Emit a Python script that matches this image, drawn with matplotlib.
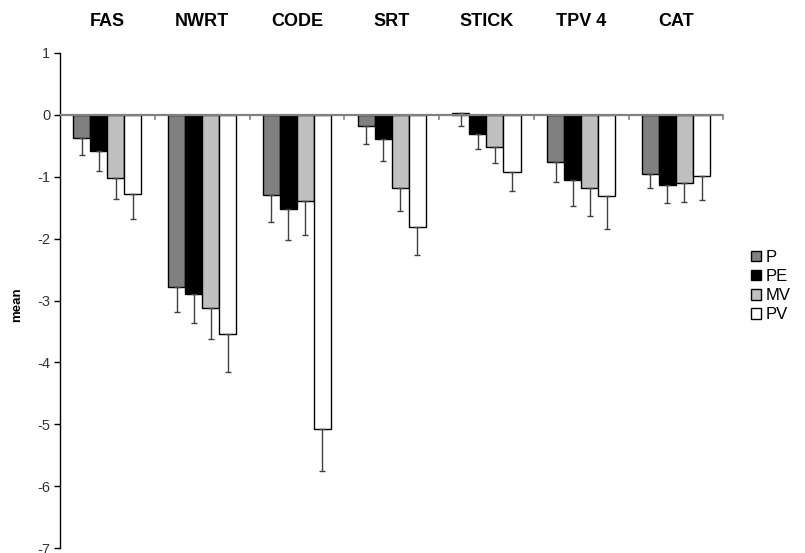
import matplotlib
matplotlib.use("Agg")
import matplotlib.pyplot as plt
import numpy as np

plt.rcParams['font.family'] = ['Liberation Sans', 'DejaVu Sans']

categories = ["FAS", "NWRT", "CODE", "SRT", "STICK", "TPV 4", "CAT"]
series = ["P", "PE", "MV", "PV"]

# group means per condition
means_P  = [-0.38, -2.79, -1.30, -0.18,  0.02, -0.76, -0.95]
means_PE = [-0.59, -2.89, -1.52, -0.39, -0.32, -1.05, -1.13]
means_MV = [-1.03, -3.12, -1.40, -1.18, -0.53, -1.18, -1.11]
means_PV = [-1.28, -3.54, -5.08, -1.81, -0.93, -1.32, -0.99]

# lower error bar lengths
err_P  = [0.27, 0.39, 0.43, 0.30, 0.20, 0.33, 0.23]
err_PE = [0.32, 0.48, 0.51, 0.36, 0.23, 0.43, 0.30]
err_MV = [0.33, 0.50, 0.55, 0.38, 0.25, 0.45, 0.30]
err_PV = [0.40, 0.61, 0.68, 0.46, 0.30, 0.53, 0.39]

means = [means_P, means_PE, means_MV, means_PV]
errs = [err_P, err_PE, err_MV, err_PV]
fills = ["#808080", "#000000", "#c0c0c0", "#ffffff"]

fig = plt.figure(figsize=(8.05, 5.53), dpi=100)
ax = fig.add_axes([60 / 805, 1 - 548.3 / 553, (723.3 - 60) / 805, (548.3 - 52.7) / 553])

x = np.arange(len(categories)) + 0.5
w = 0.18
for k, (m, e, c) in enumerate(zip(means, errs, fills)):
    pos = x + (k - 1.5) * w
    ax.bar(pos, m, width=w, color=c, edgecolor="black", linewidth=1.0,
           label=series[k], zorder=2)
    ax.errorbar(pos, m, yerr=[e, np.zeros(len(e))], fmt="none",
                ecolor="#404040", elinewidth=1.0, capsize=2.5, capthick=1.0,
                zorder=3)

ax.set_xlim(0, len(categories))
ax.set_ylim(-7, 1)
ax.set_yticks(range(-7, 2))
ax.set_yticklabels([str(v) for v in range(-7, 2)], fontsize=10.5, color="#333333")
ax.tick_params(axis="y", direction="out", length=4, width=1, pad=3)

# horizontal baseline at zero with group separators
ax.axhline(0, color="#808080", linewidth=1.6, zorder=4)
for b in range(1, len(categories) + 1):
    ax.plot([b, b], [0, -0.07], color="#808080", linewidth=1.2, zorder=4,
            clip_on=False)
ax.set_xticks([])

for s in ["top", "right", "bottom"]:
    ax.spines[s].set_visible(False)
ax.spines["left"].set_linewidth(1.0)

for xi, name in zip(x, categories):
    ax.text(xi, 1.0 + 31 / 62, name, ha="center", va="center",
            fontsize=13, fontweight="bold", clip_on=False)

fig.text(17 / 805, 1 - 305 / 553, "mean", rotation=90, ha="center", va="center",
         fontsize=9.5, fontweight="bold")

leg = ax.legend(loc="center left", bbox_to_anchor=(751 / 805, 1 - 286 / 553),
                bbox_transform=fig.transFigure, frameon=False, fontsize=12,
                handlelength=0.6, handleheight=0.6, handletextpad=0.3,
                labelspacing=0.25, borderaxespad=0, borderpad=0)

fig.savefig("out.png", dpi=100)
